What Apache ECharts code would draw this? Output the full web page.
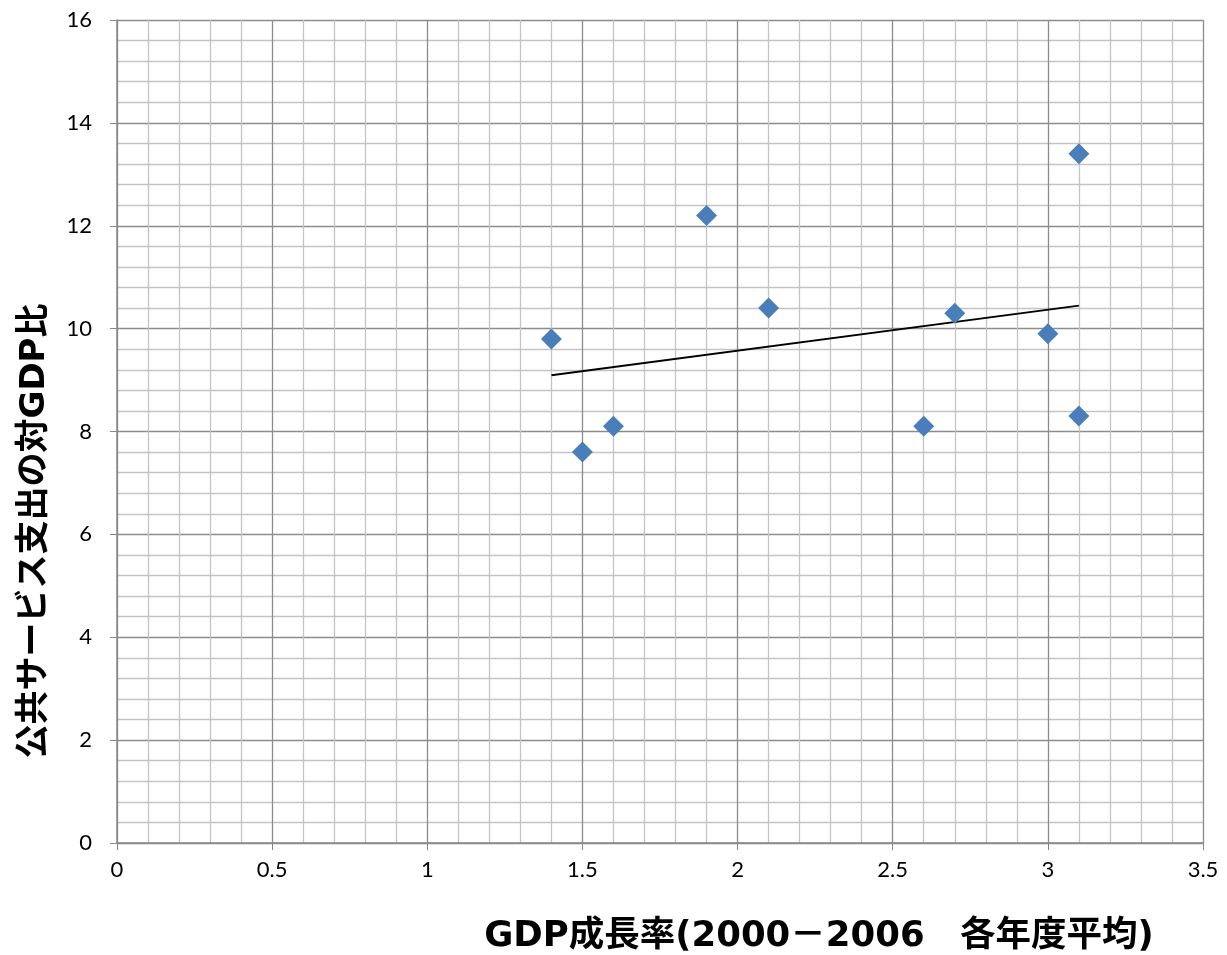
<!DOCTYPE html>
<html><head><meta charset="utf-8">
<script src="https://cdn.jsdelivr.net/npm/echarts@6/dist/echarts.min.js"></script>
<style>html,body{margin:0;padding:0;background:#fff}#c{width:1227px;height:955px}</style>
</head><body><div id="c"></div>
<script>
const growth = [1.4, 1.5, 1.6, 1.9, 2.1, 2.6, 2.7, 3.0, 3.1, 3.1];
const spending = [9.8, 7.6, 8.1, 12.2, 10.4, 8.1, 10.3, 9.9, 13.4, 8.3];
const xTitle = 'GDP成長率(2000－2006　各年度平均)';
const yTitle = '公共サービス支出の対GDP比';

const pts = growth.map((x, i) => [x, spending[i]]);
// least-squares trend line from the data
const n = growth.length;
const mx = growth.reduce((a, b) => a + b, 0) / n;
const my = spending.reduce((a, b) => a + b, 0) / n;
let sxy = 0, sxx = 0;
for (let i = 0; i < n; i++) { sxy += (growth[i] - mx) * (spending[i] - my); sxx += (growth[i] - mx) ** 2; }
const slope = sxy / sxx, icpt = my - slope * mx;
const xmin = Math.min(...growth), xmax = Math.max(...growth);
const trend = [[xmin, icpt + slope * xmin], [xmax, icpt + slope * xmax]];

const chart = echarts.init(document.getElementById('c'));
const titleFont = '"DejaVu Sans", "Noto Sans CJK JP", sans-serif';
chart.setOption({
  animation: false,
  grid: { left: 117, right: 24, top: 20, bottom: 112, containLabel: false, outerBoundsMode: 'none' },
  xAxis: {
    type: 'value', min: 0, max: 3.5, interval: 0.5,
    axisLine: { show: true, lineStyle: { color: '#888', width: 1.5 } },
    axisTick: { show: true, length: 7, lineStyle: { color: '#888' } },
    axisLabel: { margin: 16, color: '#000', fontSize: 22, fontFamily: 'Lato, "Open Sans", sans-serif' },
    splitLine: { show: true, lineStyle: { color: '#8c8c8c', width: 1.3 } },
    minorTick: { show: false, splitNumber: 5 },
    minorSplitLine: { show: true, lineStyle: { color: '#c4c4c4', width: 1.3 } }
  },
  yAxis: {
    type: 'value', min: 0, max: 16, interval: 2,
    axisLine: { show: true, lineStyle: { color: '#888', width: 1.5 } },
    axisTick: { show: true, length: 7, lineStyle: { color: '#888' } },
    axisLabel: { margin: 25, color: '#000', fontSize: 22, fontFamily: 'Lato, "Open Sans", sans-serif' },
    splitLine: { show: true, lineStyle: { color: '#8c8c8c', width: 1.3 } },
    minorTick: { show: false, splitNumber: 5 },
    minorSplitLine: { show: true, lineStyle: { color: '#c4c4c4', width: 1.3 } }
  },
  graphic: [
    { type: 'text', x: 819, y: 937, style: { text: xTitle, fontSize: 35.5, fontWeight: 'bold', fontFamily: titleFont, fill: '#000', align: 'center', verticalAlign: 'middle' } },
    { type: 'text', x: 35, y: 531, rotation: Math.PI / 2, style: { text: yTitle, fontSize: 34, fontWeight: 'bold', fontFamily: titleFont, fill: '#000', align: 'center', verticalAlign: 'middle' } }
  ],
  series: [
    { type: 'line', data: trend, showSymbol: false, symbol: 'none', lineStyle: { color: '#000', width: 1.8 }, z: 2 },
    { type: 'scatter', data: pts, symbol: 'diamond', symbolSize: 21, itemStyle: { color: '#4a7ebb', opacity: 1 }, z: 3 }
  ]
});
</script></body></html>
